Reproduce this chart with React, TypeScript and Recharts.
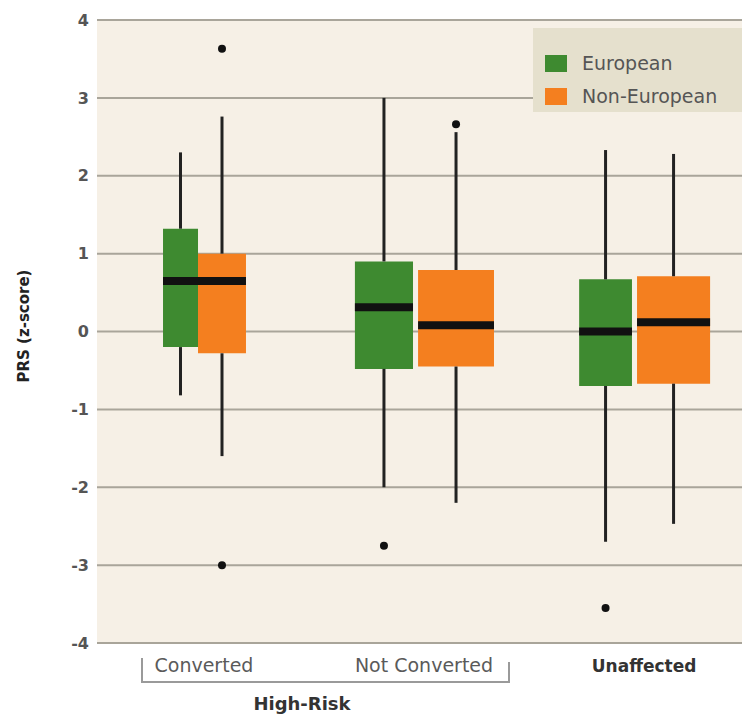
import { ComposedChart, Area, Line, Scatter, XAxis, YAxis, CartesianGrid, Legend } from 'recharts'

const CATEGORIES = ['Converted', 'Not Converted', 'Unaffected']
const GROUPS = ['European', 'Non-European']
const Y_TICKS = [-4, -3, -2, -1, 0, 1, 2, 3, 4]

// European (green)
const EUR_HIGH = [2.3, 3.0, 2.33]
const EUR_Q3 = [1.32, 0.9, 0.67]
const EUR_MEDIAN = [0.65, 0.31, 0.0]
const EUR_Q1 = [-0.2, -0.48, -0.7]
const EUR_LOW = [-0.82, -2.0, -2.7]
const EUR_OUTLIERS = [[], [-2.75], [-3.55]]

// Non-European (orange)
const NON_HIGH = [2.76, 2.56, 2.28]
const NON_Q3 = [1.0, 0.79, 0.71]
const NON_MEDIAN = [0.65, 0.08, 0.12]
const NON_Q1 = [-0.28, -0.45, -0.67]
const NON_LOW = [-1.6, -2.2, -2.47]
const NON_OUTLIERS = [[3.63, -3.0], [2.66], []]

const COLORS = ['#3E8A30', '#F47F1F']

// box edges relative to category centre (x units), widths vary by group size
const BOX_EDGES = [
  [[-0.186, -0.027], [-0.027, 0.191]],
  [[-0.314, -0.05], [-0.027, 0.318]],
  [[-0.295, -0.055], [-0.032, 0.3]],
]

const STATS = [
  { high: EUR_HIGH, q3: EUR_Q3, median: EUR_MEDIAN, q1: EUR_Q1, low: EUR_LOW, outliers: EUR_OUTLIERS },
  { high: NON_HIGH, q3: NON_Q3, median: NON_MEDIAN, q1: NON_Q1, low: NON_LOW, outliers: NON_OUTLIERS },
]

const boxes = GROUPS.flatMap((group, gi) =>
  CATEGORIES.map((cat, ci) => {
    const s = STATS[gi]
    const left = ci + BOX_EDGES[ci][gi][0]
    const right = ci + BOX_EDGES[ci][gi][1]
    return {
      key: `${gi}-${ci}`,
      color: COLORS[gi],
      left,
      right,
      mid: (left + right) / 2,
      high: s.high[ci],
      q3: s.q3[ci],
      median: s.median[ci],
      q1: s.q1[ci],
      low: s.low[ci],
      outliers: s.outliers[ci],
    }
  })
)

const outlierPoints = boxes.flatMap((b) => b.outliers.map((v) => ({ x: b.mid, y: v })))

const FONT = '"DejaVu Sans", sans-serif'

const CategoryTick = ({ x, y, payload }: any) => {
  const i = payload.value
  const last = i === CATEGORIES.length - 1
  return (
    <text
      x={x}
      y={y + 29}
      textAnchor="middle"
      fontFamily={FONT}
      fontSize={last ? 17 : 19}
      fontWeight={last ? 'bold' : 'normal'}
      fill={last ? '#333' : '#5a5a5a'}
    >
      {CATEGORIES[i]}
    </text>
  )
}

const LegendBox = () => (
  <div
    style={{
      background: '#E5E0CD',
      width: 209,
      height: 84,
      boxSizing: 'border-box',
      padding: '19px 0 0 12px',
      fontFamily: FONT,
      fontSize: 19,
      color: '#555',
    }}
  >
    {GROUPS.map((g, i) => (
      <div key={g} style={{ display: 'flex', alignItems: 'center', height: 33 - i * 0 }}>
        <span style={{ display: 'inline-block', width: 22, height: 17, background: COLORS[i], marginRight: 15 }} />
        <span style={{ lineHeight: '17px' }}>{g}</span>
      </div>
    ))}
  </div>
)

export default function App() {
  return (
    <div style={{ position: 'absolute', left: 0, top: 0, width: 742, height: 718, background: '#fff' }}>
      <ComposedChart width={742} height={718} margin={{ top: 20, right: 0, left: 25, bottom: 45 }}>
        <CartesianGrid vertical={false} stroke="#A9A59A" strokeWidth={2} fill="#F6F0E6" />
        <XAxis
          type="number"
          dataKey="x"
          domain={[-0.486, 2.445]}
          allowDataOverflow
          ticks={[0, 1, 2]}
          tick={<CategoryTick />}
          tickLine={false}
          axisLine={false}
          tickSize={0}
          tickMargin={0}
          height={30}
        />
        <YAxis
          type="number"
          domain={[-4, 4]}
          allowDataOverflow
          ticks={Y_TICKS}
          tickLine={false}
          axisLine={false}
          tickSize={0}
          tickMargin={8}
          width={72}
          tick={{ fill: '#555', fontSize: 16, fontFamily: FONT, fontWeight: 'bold' }}
        />
        {boxes.map((b) => [
          <Line
            key={`${b.key}-wl`}
            data={[{ x: b.mid, y: b.low }, { x: b.mid, y: b.q1 }]}
            dataKey="y"
            type="linear"
            stroke="#222"
            strokeWidth={3}
            dot={false}
            activeDot={false}
            legendType="none"
            isAnimationActive={false}
          />,
          <Line
            key={`${b.key}-wh`}
            data={[{ x: b.mid, y: b.q3 }, { x: b.mid, y: b.high }]}
            dataKey="y"
            type="linear"
            stroke="#222"
            strokeWidth={3}
            dot={false}
            activeDot={false}
            legendType="none"
            isAnimationActive={false}
          />,
          <Area
            key={`${b.key}-box`}
            data={[{ x: b.left, y: [b.q1, b.q3] }, { x: b.right, y: [b.q1, b.q3] }]}
            dataKey="y"
            type="linear"
            stroke="none"
            fill={b.color}
            fillOpacity={1}
            dot={false}
            activeDot={false}
            legendType="none"
            isAnimationActive={false}
          />,
          <Line
            key={`${b.key}-med`}
            data={[{ x: b.left, y: b.median }, { x: b.right, y: b.median }]}
            dataKey="y"
            type="linear"
            stroke="#111"
            strokeWidth={8}
            dot={false}
            activeDot={false}
            legendType="none"
            isAnimationActive={false}
          />,
        ])}
        <Scatter data={outlierPoints} dataKey="y" fill="#111" shape={(p: any) => <circle cx={p.cx} cy={p.cy} r={4} fill="#111" />} legendType="none" isAnimationActive={false} />
        <Legend
          layout="horizontal"
          verticalAlign="middle"
          align="center"
          content={<LegendBox />}
          wrapperStyle={{ position: 'absolute', top: 28, left: 533, width: 209, height: 84 }}
        />
        <g>
          <text
            transform="translate(29 326) rotate(-90)"
            textAnchor="middle"
            fontFamily={FONT}
            fontSize={15}
            fontWeight="bold"
            fill="#222"
          >
            PRS (z-score)
          </text>
          <polyline points="142,658 142,682 509,682 509,662" fill="none" stroke="#9a9a9a" strokeWidth={2} />
          <text x={302} y={710} textAnchor="middle" fontFamily={FONT} fontSize={18} fontWeight="bold" fill="#333">
            High-Risk
          </text>
        </g>
      </ComposedChart>
    </div>
  )
}
